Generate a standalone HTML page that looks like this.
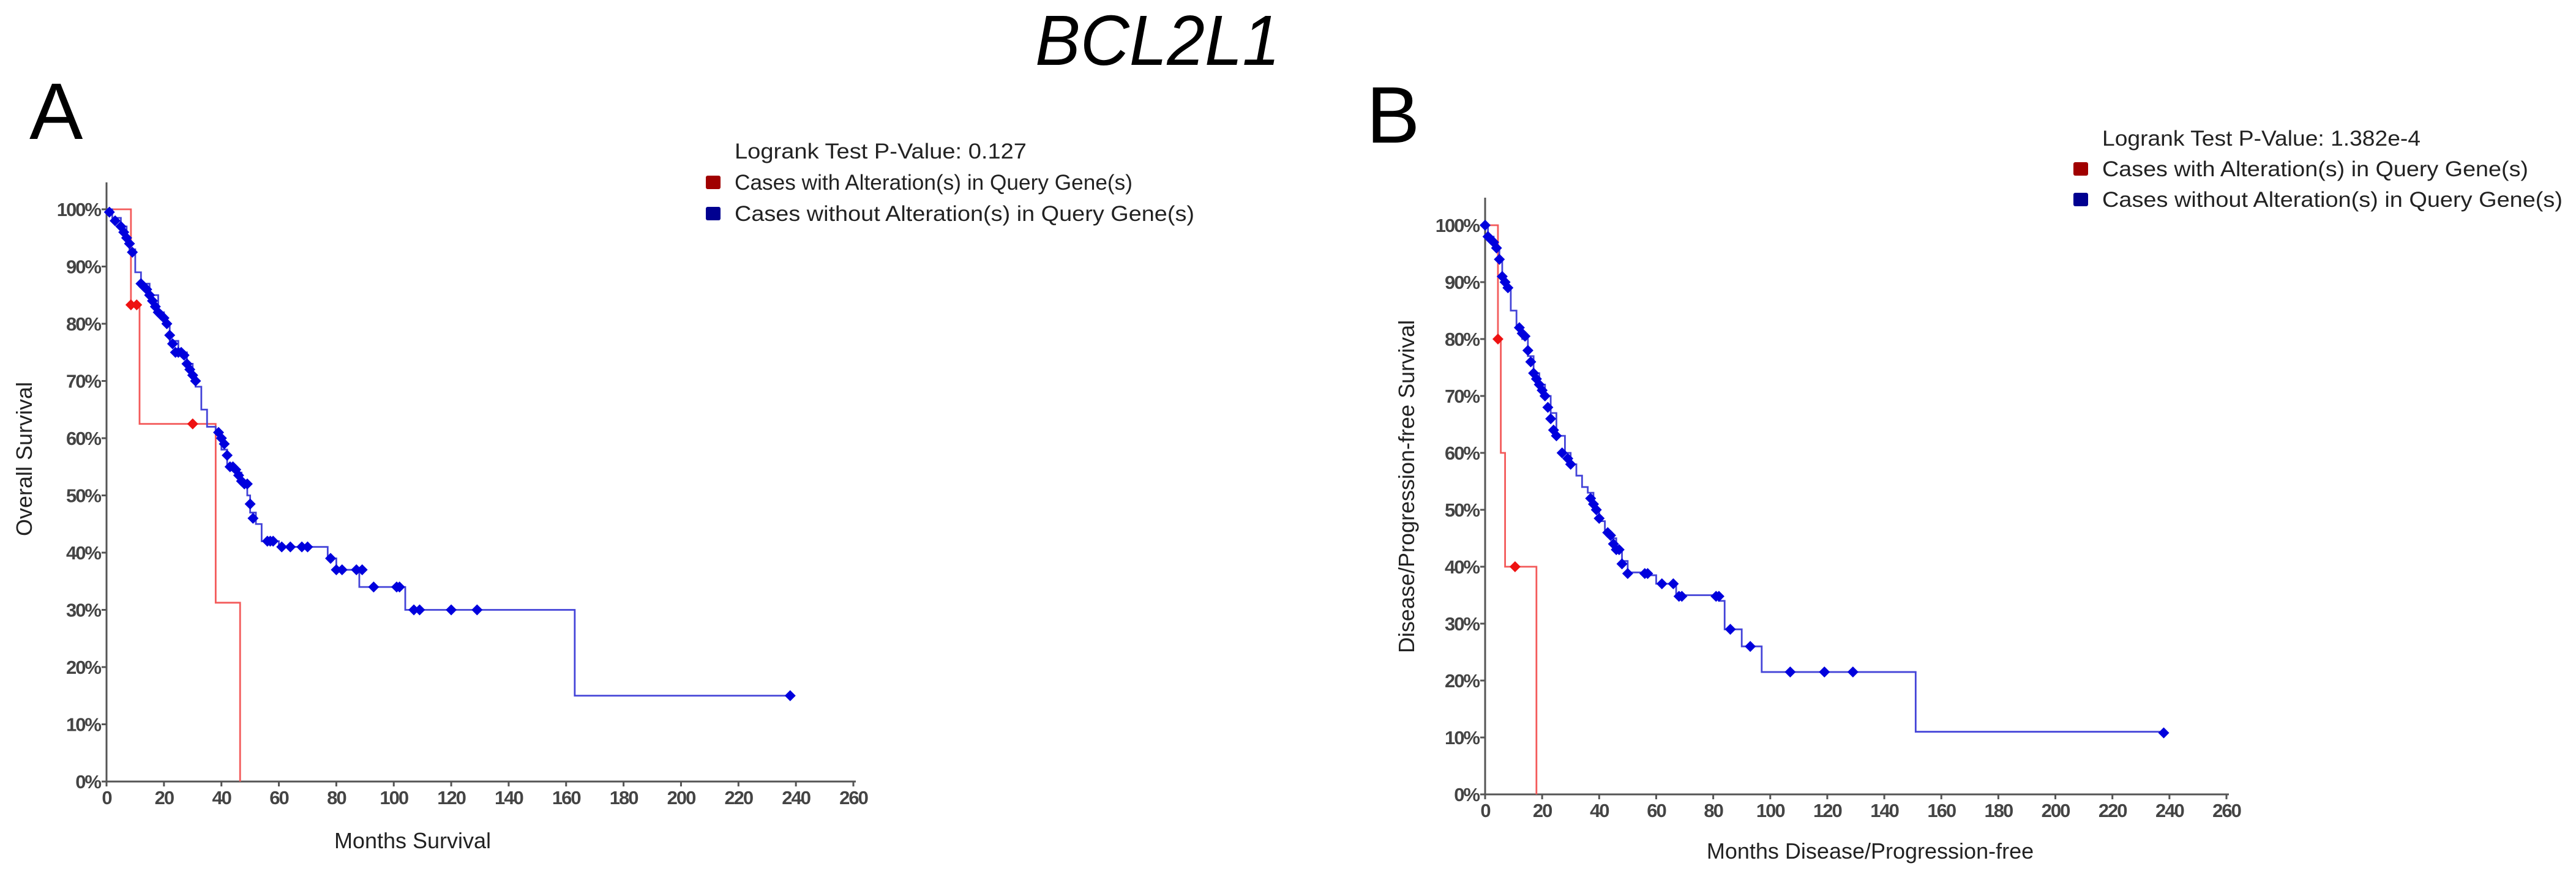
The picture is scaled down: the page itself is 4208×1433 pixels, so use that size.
<!DOCTYPE html>
<html><head><meta charset="utf-8"><style>
html,body{margin:0;padding:0;background:#fff;}
svg{display:block;}
text{font-family:"Liberation Sans",sans-serif;}
</style></head><body>
<svg id="fig" width="4208" height="1433" viewBox="0 0 4208 1433" xmlns="http://www.w3.org/2000/svg">
<text x="1891" y="106" font-size="116" font-style="italic" text-anchor="middle" textLength="400" lengthAdjust="spacingAndGlyphs" fill="#000">BCL2L1</text>
<text x="48" y="227" font-size="131" fill="#000">A</text>
<text x="2232" y="233" font-size="131" fill="#000">B</text>
<g id="chartA"></g>
<g id="chartB"></g>
</svg>
<script>
const xTicks = [0,20,40,60,80,100,120,140,160,180,200,220,240,260];
const yTicks = [0,10,20,30,40,50,60,70,80,90,100];

// Panel A: overall survival
const aBlueTimes = [0,2,5,7,8,10,12,15,18,20,22,25,28,30,31,33,35,38,40,42,45,47,49,50,52,54,60,77,80,88,104,163,238];
const aBlueSurv  = [100,98.5,97,95,93,89,87,85,82,80,77,75,73,71,69,65,62,61,58,55,54,52,50,47,45,42,41,39,37,34,30,15,15];
const aBlueCensT = [1,3,5,6,7,8,9,12,13,14,15,16,17,18,19,20,21,22,23,24,25,26,27,28,29,30,31,39,40,41,42,43,44,45,46,47,48,49,50,51,56,57,58,61,64,68,70,78,80,82,87,89,93,101,102,107,109,120,129,238];
const aBlueCensS = [99.5,98,97,96,95,94,92.5,87,86.5,86,85,84,83,82,81.5,81,80,78,76.5,75,75,75,74.5,73,72,71,70,61,60,59,57,55,55,54.5,53.5,52.5,52,52,48.5,46,42,42,42,41,41,41,41,39,37,37,37,37,34,34,34,30,30,30,30,15];
const aRedTimes = [0,8.5,11.5,38,46.5];
const aRedSurv  = [100,83.3,62.5,31.25,0];
const aRedCensT = [8.5,10.5,30];
const aRedCensS = [83.3,83.3,62.5];

// Panel B: disease/progression-free survival
const bBlueTimes = [0,1,3,4,5,6,7,9,11,13,15,17,19,21,23,25,28,30,32,34,36,38,40,42,44,46,48,50,58,60,67,82,84,90,97,151,238];
const bBlueSurv  = [100,98,97,96,94,91,89,85,82,80,77,74,72,70,67,63,60,58,56,54,53,50,48,46,45,43,41,39,38.5,37,35,34,29,26,21.5,11,11];
const bBlueCensT = [0,1,2,3,4,5,6,7,8,12,13,14,15,16,17,18,19,20,21,22,23,24,25,27,29,30,37,38,39,40,43,44,45,46,47,48,50,56,57,62,66,68,69,81,82,86,93,107,119,129,238];
const bBlueCensS = [100,98,97.5,97,96,94,91,90,89,82,81,80.5,78,76,74,73,72,71,70,68,66,64,63,60,59,58,52,51,50,48.5,46,45.5,44,43,43,40.5,38.8,38.8,38.8,37,37,34.8,34.8,34.8,34.8,29,26,21.5,21.5,21.5,10.8];
const bRedTimes = [0,4.5,5.5,7,18];
const bRedSurv  = [100,80,60,40,0];
const bRedCensT = [4.5,10.5];
const bRedCensS = [80,40];

const NS = "http://www.w3.org/2000/svg";
function mk(parent, tag, attrs){
  const e = document.createElementNS(NS, tag);
  for (const k in attrs) e.setAttribute(k, attrs[k]);
  parent.appendChild(e);
  return e;
}

function drawChart(g, c){
  const x = t => c.x0 + (t/260)*(c.x260 - c.x0);
  const y = s => c.y0 + (s/100)*(c.y100 - c.y0);
  const ya = mk(g,'line',{x1:c.x0,y1:c.axisTop,x2:c.x0,y2:c.y0,stroke:'#555','stroke-width':3});
  
  
  const xa = mk(g,'line',{x1:c.x0,y1:c.y0,x2:x(260)+4,y2:c.y0,stroke:'#555','stroke-width':3});
  
  
  yTicks.forEach(v=>{
    const tk = mk(g,'line',{x1:c.x0-8,y1:y(v),x2:c.x0,y2:y(v),stroke:'#555','stroke-width':3});
    
    
    const tl = mk(g,'text',{x:c.x0-10,y:y(v)+11,'font-size':31,'text-anchor':'end',fill:'#444','font-weight':'bold','letter-spacing':-2});
    tl.textContent = v+'%';
    
    
  });
  xTicks.forEach(v=>{
    const tk = mk(g,'line',{x1:x(v),y1:c.y0,x2:x(v),y2:c.y0+8,stroke:'#555','stroke-width':3});
    
    
    const tl = mk(g,'text',{x:x(v),y:c.y0+37,'font-size':31,'text-anchor':'middle',fill:'#444','font-weight':'bold','letter-spacing':-2});
    tl.textContent = v;
    
    
  });
  const yt = mk(g,'text',{x:0,y:0,'font-size':36,'text-anchor':'middle',fill:'#222',transform:`translate(${c.ytX},${c.ytY}) rotate(-90)`});
  yt.textContent = c.yTitle;
  
  
  const xt = mk(g,'text',{x:c.xtX,y:c.xtY,'font-size':36,'text-anchor':'middle',fill:'#222'});
  xt.textContent = c.xTitle;
  
  
  function series(times, surv, ct, cs, lineCol, markCol, name){
    let d = `M${x(times[0])},${y(surv[0])}`;
    for (let i=1;i<times.length;i++){ d += ` H${x(times[i])} V${y(surv[i])}`; }
    const p = mk(g,'path',{d:d,fill:'none',stroke:lineCol,'stroke-width':2.8});
    
    
    for (let i=0;i<ct.length;i++){
      const px = x(ct[i]), py = y(cs[i]);
      const m = mk(g,'path',{d:`M${px-9},${py} L${px},${py-9} L${px+9},${py} L${px},${py+9} Z`,fill:markCol});
      
      
    }
  }
  series(c.rT,c.rS,c.rCT,c.rCS,'#f35a5a','#ee1111','altered');
  series(c.bT,c.bS,c.bCT,c.bCS,'#4444d8','#0000dd','unaltered');
  const lg = mk(g,'g',{});
  
  
  const t1 = mk(lg,'text',{x:c.lgX,y:c.lgY,'font-size':35,fill:'#222',textLength:c.pLen,lengthAdjust:'spacingAndGlyphs'});
  t1.textContent = c.pText;
  
  
  const rows = [['#a00000','Cases with Alteration(s) in Query Gene(s)',c.len2,'legend-entry-altered'],['#000090','Cases without Alteration(s) in Query Gene(s)',c.len3,'legend-entry-unaltered']];
  rows.forEach((r,i)=>{
    const yy = c.lgY + (i+1)*c.lgStep;
    const sq = mk(lg,'rect',{x:c.lgX-47,y:yy-23,width:24,height:22,rx:3,fill:r[0]});
    
    
    const tx = mk(lg,'text',{x:c.lgX,y:yy,'font-size':35,fill:'#222',textLength:r[2],lengthAdjust:'spacingAndGlyphs'});
    tx.textContent = r[1];
    
    
  });
}

drawChart(document.getElementById('chartA'), {
  x0:174, x260:1394, y0:1277, y100:342, axisTop:298,
  yTitle:'Overall Survival', ytX:52, ytY:750,
  xTitle:'Months Survival', xtX:674, xtY:1386,
  rT:aRedTimes, rS:aRedSurv, rCT:aRedCensT, rCS:aRedCensS,
  bT:aBlueTimes, bS:aBlueSurv, bCT:aBlueCensT, bCS:aBlueCensS,
  lgX:1200, lgY:259, lgStep:51, pText:'Logrank Test P-Value: 0.127', pLen:477, len2:650, len3:751
});
drawChart(document.getElementById('chartB'), {
  x0:2426, x260:3637, y0:1298, y100:368, axisTop:323,
  yTitle:'Disease/Progression-free Survival', ytX:2310, ytY:795,
  xTitle:'Months Disease/Progression-free', xtX:3055, xtY:1403,
  rT:bRedTimes, rS:bRedSurv, rCT:bRedCensT, rCS:bRedCensS,
  bT:bBlueTimes, bS:bBlueSurv, bCT:bBlueCensT, bCS:bBlueCensS,
  lgX:3434, lgY:238, lgStep:50, pText:'Logrank Test P-Value: 1.382e-4', pLen:520, len2:696, len3:752
});
</script>
</body></html>
